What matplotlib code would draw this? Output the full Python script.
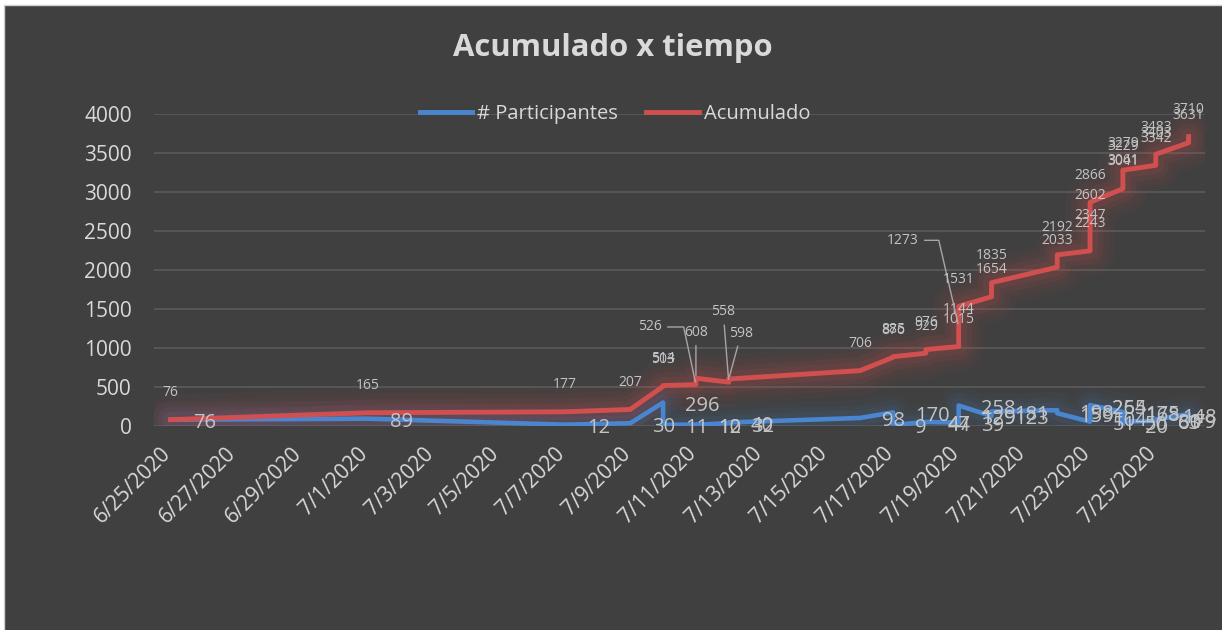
import matplotlib
matplotlib.use('Agg')
import matplotlib.pyplot as plt
import matplotlib.dates as mdates
import matplotlib.transforms as mtransforms
import pandas as pd
from matplotlib.lines import Line2D
from matplotlib.patches import Rectangle

plt.rcParams['font.family'] = ['Open Sans', 'DejaVu Sans']

# datos (orden por fecha, como los dibuja Excel)
fechas = ['2020-06-25', '2020-07-01', '2020-07-07', '2020-07-09',
          '2020-07-10', '2020-07-10', '2020-07-11', '2020-07-11',
          '2020-07-12', '2020-07-12', '2020-07-16', '2020-07-17',
          '2020-07-17', '2020-07-18', '2020-07-18', '2020-07-19',
          '2020-07-19', '2020-07-19', '2020-07-19', '2020-07-20',
          '2020-07-20', '2020-07-22', '2020-07-22', '2020-07-23',
          '2020-07-23', '2020-07-23', '2020-07-23', '2020-07-24',
          '2020-07-24', '2020-07-24', '2020-07-24', '2020-07-25',
          '2020-07-25', '2020-07-25', '2020-07-26', '2020-07-26']
participantes = [76, 89, 12, 30, 296, 11, 12, 10, 32, 40, 98, 170, 9, 44, 47,
                 39, 129, 129, 258, 123, 181, 198, 159, 51, 104, 255, 264,
                 175, 20, 168, 50, 63, 61, 80, 148, 79]
acumulado = [76, 165, 177, 207, 503, 514, 526, 608, 558, 598, 706, 876, 885,
             929, 976, 1015, 1144, 1273, 1531, 1654, 1835, 2033, 2192, 2243,
             2347, 2602, 2866, 3041, 3061, 3229, 3279, 3342, 3403, 3483,
             3631, 3710]
fecha_ini = '2020-06-25'
fecha_fin = '2020-07-26'

BG = '#404040'
TXT = '#d9d9d9'
LBL = '#c4c4c4'
AZUL = '#4a86d0'
ROJO = '#d24f4f'

# etiquetas movidas a mano en el original (offset en puntos)
offsets_rojo = {6: (-33, 41.5), 7: (0, 33), 8: (-4, 50.5), 9: (9, 33), 17: (-40, 62)}
conexion = {6: 'angle,angleA=0,angleB=102,rad=0', 17: 'angle,angleA=0,angleB=103,rad=0'}

fig = plt.figure(figsize=(12.22, 6.30), dpi=100)
fig.patch.set_facecolor('white')
fig.add_artist(Rectangle((4 / 1222, -0.01), 1.0, 1 - 5 / 630 + 0.01,
                         transform=fig.transFigure, facecolor=BG,
                         edgecolor='#d0d0d0', lw=1, zorder=-5))

ax = fig.add_axes([154 / 1222, 204.4 / 630, 1051 / 1222, 311.6 / 630])
ax.set_facecolor('none')

x = mdates.date2num(pd.to_datetime(fechas))

# brillo (glow) de las lineas
for lw, a in [(36, 0.05), (27, 0.06), (19, 0.075), (12, 0.1)]:
    ax.plot(x, acumulado, color=ROJO, lw=lw, alpha=a, solid_joinstyle='round',
            solid_capstyle='round', zorder=1)
for lw, a in [(26, 0.045), (18, 0.055), (11, 0.08)]:
    ax.plot(x, participantes, color=AZUL, lw=lw, alpha=a, solid_joinstyle='round',
            solid_capstyle='round', zorder=1)

ax.plot(x, participantes, color=AZUL, lw=3.3, solid_joinstyle='round', zorder=3)
ax.plot(x, acumulado, color=ROJO, lw=3.5, solid_joinstyle='round', zorder=4)

# etiquetas de datos
n = len(participantes)
for i, (xi, v) in enumerate(zip(x, participantes)):
    if i >= n - 2:
        # Excel las mete dentro del area del grafico
        ax.annotate(str(v), (xi, v), xytext=(20, -2.5), textcoords='offset points',
                    ha='right', va='center', fontsize=14.5, color=LBL, zorder=6)
    else:
        ax.annotate(str(v), (xi, v), xytext=(16, -2.5), textcoords='offset points',
                    ha='left', va='center', fontsize=14.5, color=LBL, zorder=6)
for i, (xi, v) in enumerate(zip(x, acumulado)):
    off = offsets_rojo.get(i, (0, 19.5))
    arrow = None
    if i in offsets_rojo:
        arrow = dict(arrowstyle='-', color='#a6a6a6', lw=1, shrinkA=2, shrinkB=2,
                     connectionstyle=conexion.get(i, 'arc3'))
    ax.annotate(str(v), (xi, v), xytext=off, textcoords='offset points',
                ha='center', va='center', fontsize=10, color=LBL, zorder=6,
                arrowprops=arrow)

x0 = mdates.date2num(pd.Timestamp(fecha_ini))
x1 = mdates.date2num(pd.Timestamp(fecha_fin))
ax.set_xlim(x0 - 0.5, x1 + 0.5)
ax.set_ylim(0, 4000)

ticks = pd.date_range(fecha_ini, '2020-07-25', freq='2D')
ax.set_xticks(mdates.date2num(ticks))
ax.set_xticklabels([f'{t.month}/{t.day}/{t.year}' for t in ticks], rotation=45,
                   ha='right', va='center', rotation_mode='anchor')
ax.set_yticks(range(0, 4001, 500))
ax.tick_params(axis='x', length=0, pad=18, labelsize=15, labelcolor=TXT)
ax.tick_params(axis='y', length=0, pad=16, labelsize=15, labelcolor=TXT)
shift = mtransforms.ScaledTranslation(-3 / 100, 0, fig.dpi_scale_trans)
for lbl in ax.get_xticklabels():
    lbl.set_transform(lbl.get_transform() + shift)
ax.yaxis.grid(True, color='#595959', lw=1.3)
ax.set_axisbelow(True)
for s in ax.spines.values():
    s.set_visible(False)

fig.text(613 / 1222, 1 - 48 / 630, 'Acumulado x tiempo', ha='center', va='center',
         fontsize=22.3, fontweight='bold', color=TXT)

handles = [Line2D([], [], color=AZUL, lw=3.5), Line2D([], [], color=ROJO, lw=3.5)]
ax.legend(handles, ['# Participantes', 'Acumulado'], loc='center',
          bbox_to_anchor=(615 / 1222, 1 - 114 / 630), bbox_transform=fig.transFigure,
          ncol=2, frameon=False, fontsize=14.5, handlelength=2.6, handletextpad=0.25,
          columnspacing=1.4, labelcolor=TXT)

fig.savefig('out.png', dpi=100, facecolor=fig.get_facecolor())
